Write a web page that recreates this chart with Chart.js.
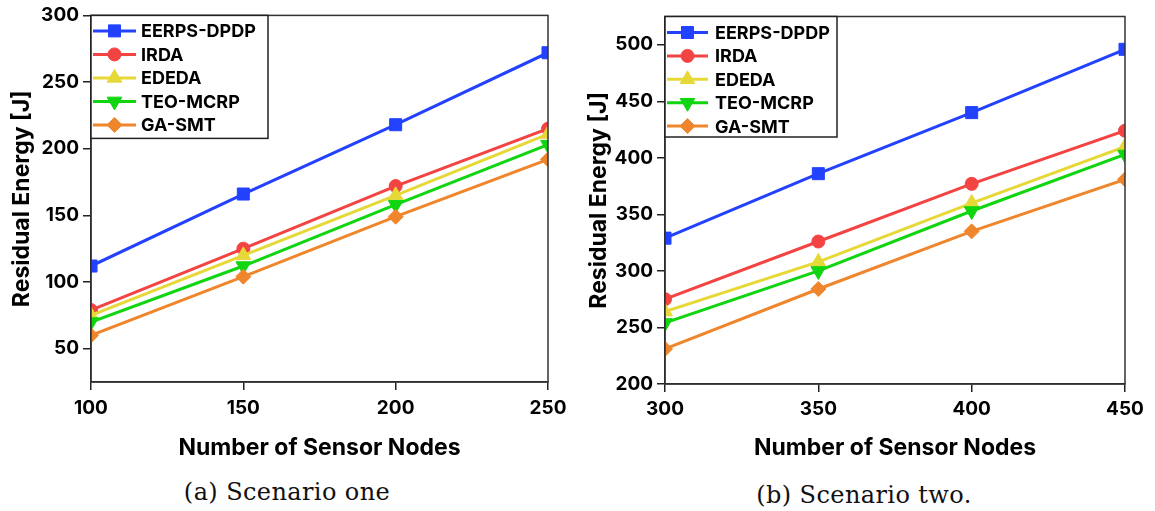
<!DOCTYPE html>
<html>
<head>
<meta charset="utf-8">
<script src="https://cdn.jsdelivr.net/npm/chart.js@4.4.1/dist/chart.umd.min.js"></script>
<style>
    body { margin: 0; background: #fff; width: 1155px; height: 511px; position: relative; overflow: hidden; }
    .panel { position: absolute; top: 0; }
    .caption {
        position: absolute;
        font-family: 'DejaVu Serif', serif;
        font-size: 24px;
        line-height: 24px;
        letter-spacing: 0.4px;
        color: #111;
        white-space: nowrap;
        transform: translateX(-50%);
    }
</style>
</head>
<body>
<canvas id="scenarioOneChart" class="panel" width="577" height="470" style="left:0"></canvas>
<canvas id="scenarioTwoChart" class="panel" width="578" height="470" style="left:577px"></canvas>
<div class="caption" style="left:287px; top:480px">(a) Scenario one</div>
<div class="caption" style="left:864px; top:483px">(b) Scenario two.</div>

<script>
var seriesNames = ['EERPS-DPDP', 'IRDA', 'EDEDA', 'TEO-MCRP', 'GA-SMT'];

// scenario one
var nodesOne = [100, 150, 200, 250];
var eerpsOne = [112, 166, 218, 272];
var irdaOne = [79, 125, 172, 215];
var ededaOne = [75, 120, 165, 211];
var teoOne = [70, 112, 158, 203];
var gaOne = [60, 104, 149, 192];
var energyTicksOne = [50, 100, 150, 200, 250, 300];

// scenario two
var nodesTwo = [300, 350, 400, 450];
var eerpsTwo = [329, 386, 440, 496];
var irdaTwo = [275, 326, 377, 424];
var ededaTwo = [264, 308, 360, 410];
var teoTwo = [254, 300, 353, 403];
var gaTwo = [231, 284, 335, 381];
var energyTicksTwo = [200, 250, 300, 350, 400, 450, 500];

var seriesColors = ['#2342ff', '#f44343', '#e6d837', '#10d510', '#f0862c'];
var seriesMarkers = ['rect', 'circle', 'triangle', 'triangle', 'rectRot'];
var markerRotation = [0, 0, 0, 180, 0];
var markerRadius = [8.5, 6.5, 8.5, 8.5, 7.5];

var sansFamily = "Inter, 'DejaVu Sans', sans-serif";

Chart.defaults.font.family = sansFamily;
Chart.defaults.font.weight = 'bold';
Chart.defaults.color = '#000';

// box round the plot area (top and right edges included)
var frameBox = {
    id: 'frameBox',
    afterDraw: function (chart) {
        var a = chart.chartArea, ctx = chart.ctx;
        ctx.save();
        ctx.strokeStyle = '#333';
        ctx.lineWidth = 1.5;
        ctx.strokeRect(a.left, a.top, a.right - a.left, a.bottom - a.top);
        ctx.restore();
    }
};

// legend drawn inside the plot, line + marker per series
var insideLegend = {
    id: 'insideLegend',
    afterDraw: function (chart, args, opts) {
        var a = chart.chartArea, ctx = chart.ctx;
        var left = a.left, top = a.top;
        ctx.save();
        ctx.fillStyle = '#fff';
        ctx.fillRect(left, top, opts.width, opts.height);
        ctx.strokeStyle = '#222';
        ctx.lineWidth = 1.5;
        ctx.strokeRect(left, top, opts.width, opts.height);

        chart.data.datasets.forEach(function (ds, i) {
            var y = top + opts.firstRow + i * opts.rowGap;
            ctx.strokeStyle = ds.borderColor;
            ctx.lineWidth = 3;
            ctx.beginPath();
            ctx.moveTo(left + 2, y);
            ctx.lineTo(left + opts.lineLen, y);
            ctx.stroke();

            ctx.fillStyle = ds.borderColor;
            ctx.lineWidth = 1;
            Chart.helpers.drawPoint(ctx, {
                pointStyle: ds.pointStyle,
                rotation: ds.pointRotation,
                radius: ds.pointRadius,
                borderWidth: 1
            }, left + opts.lineLen / 2 + 1, y);

            ctx.fillStyle = '#000';
            ctx.font = 'bold 18px ' + sansFamily;
            ctx.textBaseline = 'middle';
            ctx.textAlign = 'left';
            ctx.fillText(ds.label, left + opts.textX, y + 1);
        });
        ctx.restore();
    }
};

function buildDatasets(nodes, seriesValues) {
    return seriesValues.map(function (values, i) {
        return {
            label: seriesNames[i],
            data: values.map(function (v, j) { return { x: nodes[j], y: v }; }),
            borderColor: seriesColors[i],
            backgroundColor: seriesColors[i],
            pointBackgroundColor: seriesColors[i],
            pointBorderColor: seriesColors[i],
            borderWidth: 3,
            pointStyle: seriesMarkers[i],
            pointRotation: markerRotation[i],
            pointRadius: markerRadius[i],
            pointBorderWidth: 1,
            order: seriesValues.length - i
        };
    });
}

function makeChart(id, nodes, seriesValues, yMin, yMax, yTicks, layout) {
    return new Chart(document.getElementById(id), {
        type: 'line',
        data: { datasets: buildDatasets(nodes, seriesValues) },
        options: {
            responsive: false,
            animation: false,
            layout: { padding: { left: 0, top: layout.top, right: layout.right, bottom: 0 } },
            plugins: {
                legend: { display: false },
                tooltip: { enabled: false },
                insideLegend: layout.legend
            },
            scales: {
                x: {
                    type: 'linear',
                    min: nodes[0],
                    max: nodes[nodes.length - 1],
                    ticks: { stepSize: 50, padding: layout.xTickPad, font: { size: 19 } },
                    grid: { drawOnChartArea: false, tickLength: 8, color: '#222', lineWidth: 1.5 },
                    border: { color: '#222', width: 1.5 },
                    title: {
                        display: true,
                        text: 'Number of Sensor Nodes',
                        font: { size: 23 },
                        padding: { top: 0, bottom: layout.xTitlePad }
                    },
                    afterFit: function (scale) { scale.height = layout.xHeight; }
                },
                y: {
                    min: yMin,
                    max: yMax,
                    ticks: { padding: 4, font: { size: 19 } },
                    afterBuildTicks: function (scale) {
                        scale.ticks = yTicks.map(function (v) { return { value: v }; });
                    },
                    grid: { drawOnChartArea: false, tickLength: 8, color: '#222', lineWidth: 1.5 },
                    border: { color: '#222', width: 1.5 },
                    title: {
                        display: true,
                        text: 'Residual Energy [J]',
                        font: { size: 23 },
                        padding: { top: layout.yTitlePad, bottom: 0 }
                    },
                    afterFit: function (scale) { scale.width = layout.yWidth; }
                }
            }
        },
        plugins: [frameBox, insideLegend]
    });
}

makeChart('scenarioOneChart', nodesOne, [eerpsOne, irdaOne, ededaOne, teoOne, gaOne], 25, 300, energyTicksOne, {
    top: 14, right: 29, yWidth: 91, xHeight: 88,
    xTickPad: 7, xTitlePad: 8, yTitlePad: 8,
    legend: { width: 177, height: 123, firstRow: 15.5, rowGap: 23.5, lineLen: 45, textX: 50 }
});

makeChart('scenarioTwoChart', nodesTwo, [eerpsTwo, irdaTwo, ededaTwo, teoTwo, gaTwo], 200, 525, energyTicksTwo, {
    top: 16.5, right: 30, yWidth: 88, xHeight: 86,
    xTickPad: 6, xTitlePad: 8, yTitlePad: 8,
    legend: { width: 172, height: 120.5, firstRow: 16, rowGap: 23.4, lineLen: 43, textX: 50 }
});
</script>
</body>
</html>
